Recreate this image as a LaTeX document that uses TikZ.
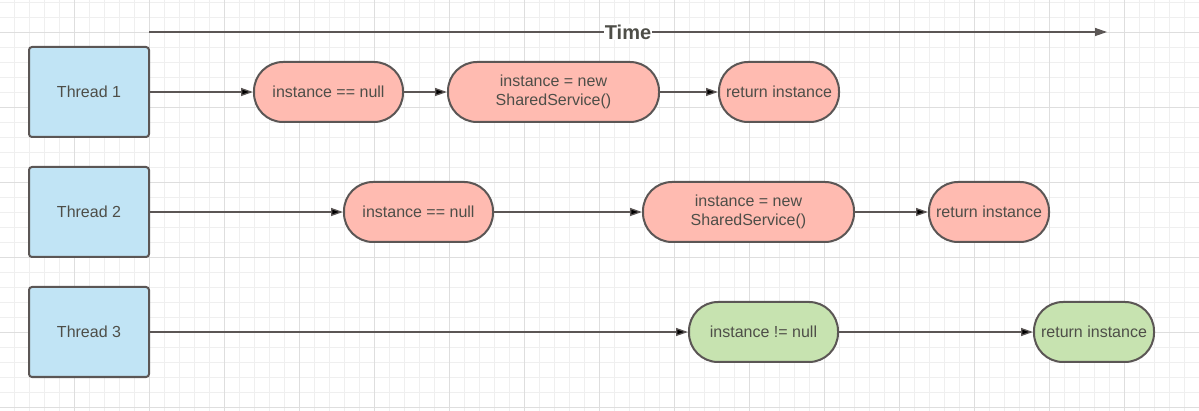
\documentclass[tikz,border=0pt]{standalone}
\usepackage{fontspec}
\setmainfont{Liberation Sans}
\usepackage{tikz}
\usetikzlibrary{arrows.meta}
\usepackage{xcolor}
\definecolor{threadblue}{HTML}{C1E4F5}
\definecolor{callred}{HTML}{FFBBB1}
\definecolor{callgreen}{HTML}{C7E3B0}
\definecolor{edgegray}{HTML}{5B5655}
\definecolor{textgray}{HTML}{4E4E48}
\definecolor{gridminor}{HTML}{EFEFEF}
\definecolor{gridmajor}{HTML}{DEDEDE}

\begin{document}
\begin{tikzpicture}[x=1pt,y=-1pt]
  \tikzset{thread/.style = {shape=rectangle,draw=edgegray,line width=2pt,rounded corners=3pt,fill=threadblue,minimum width=120pt,minimum height=90pt,inner sep=1pt,text=textgray,font=\fontsize{16}{19}\selectfont}}
    \tikzset{call/.style = {shape=rectangle,draw=edgegray,line width=2pt,rounded corners=29pt,fill=callred,minimum height=60pt,inner sep=1pt,align=center,text=textgray,font=\fontsize{16}{19}\selectfont}}
        \tikzset{check/.style = {call, fill=callgreen}}
  \tikzset{edge/.style = {draw=edgegray,line width=1.3pt,-tipA}}
  \tikzset{%
  tipA/.tip={Triangle[length=12pt,width=8pt]},
}

  \useasboundingbox (0,0) rectangle (1199,411);
	% grid
	\foreach \x in {14,29,...,1199}
	\draw[gridminor,line width=0.8pt] (\x,0) -- (\x,411);
	\foreach \y in {2,17,...,411}
	\draw[gridminor,line width=0.8pt] (0,\y) -- (1199,\y);
	\foreach \x in {74,149,...,1199}
	\draw[gridmajor,line width=0.8pt] (\x,0) -- (\x,411);
	\foreach \y in {32,107,...,411}
	\draw[gridmajor,line width=0.8pt] (0,\y) -- (1199,\y);

	% time axis
	\coordinate (T0) at (149,32);
	\coordinate (T1) at (1107,32);
	\path[edge] (T0) -- (T1) node[midway,fill=white,inner sep=1pt,text=textgray,font=\bfseries\fontsize{20}{24}\selectfont] (time) {Time};

	\node[thread] (TA) at (89,92) {Thread 1};
	\node[thread] (TB) at (89,212) {Thread 2};
	\node[thread] (TC) at (89,332) {Thread 3};

	\node[call,minimum width=149pt] (NA) at (328.5,92) {instance == null};
	\node[call,minimum width=211pt] (SA) at (553.5,92) {instance = new\\SharedService()};
	\node[call,minimum width=120pt] (RA) at (779,92) {return instance};

	\node[call,minimum width=149pt] (NB) at (418.5,212) {instance == null};
	\node[call,minimum width=211pt] (SB) at (748.5,212) {instance = new\\SharedService()};
	\node[call,minimum width=120pt] (RB) at (989,212) {return instance};

	\node[check,minimum width=149pt] (NC) at (763.5,332) {instance != null};
	\node[check,minimum width=120pt] (RC) at (1094,332) {return instance};

    \foreach \from/\to in {TA/NA, NA/SA, SA/RA, TB/NB, NB/SB, SB/RB, TC/NC, NC/RC}
    \path[edge](\from) edge (\to);

\end{tikzpicture}
\end{document}
